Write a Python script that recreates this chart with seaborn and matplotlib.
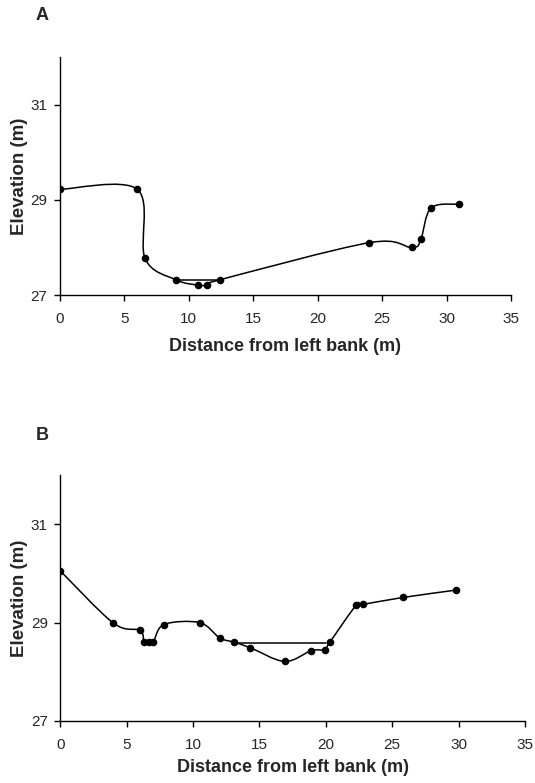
import numpy as np
import matplotlib.pyplot as plt
import seaborn as sns
from matplotlib.path import Path
from matplotlib.patches import PathPatch

# Cross-section A
dist_a = [0, 6.0, 6.6, 9.0, 10.7, 11.4, 12.4, 24.0, 27.3, 28.0, 28.8, 31.0]
elev_a = [29.22, 29.22, 27.77, 27.32, 27.21, 27.21, 27.32, 28.10, 28.00, 28.17, 28.83, 28.91]
water_a_x = [9.0, 12.4]
water_a_y = [27.32, 27.32]

# Cross-section B
dist_b = [0, 4.0, 6.0, 6.3, 6.65, 7.0, 7.8, 10.5, 12.0, 13.1, 14.3, 16.9, 18.9,
          19.9, 20.3, 22.3, 22.8, 25.8, 29.8]
elev_b = [30.05, 28.99, 28.84, 28.60, 28.60, 28.60, 28.96, 29.00, 28.69, 28.60,
          28.49, 28.21, 28.43, 28.45, 28.60, 29.36, 29.37, 29.51, 29.66]
water_b_x = [13.1, 20.0]
water_b_y = [28.59, 28.59]

yticks = [27, 29, 31]
xticks = [0, 5, 10, 15, 20, 25, 30, 35]

sns.set_style("ticks")
plt.rcParams['font.family'] = ['Liberation Sans', 'DejaVu Sans']


def smooth_path(xs, ys):
    # Excel-style smoothed line: cubic Bezier through each point
    p = np.column_stack([xs, ys]).astype(float)
    n = len(p)
    verts = [p[0]]
    codes = [Path.MOVETO]
    for i in range(n - 1):
        p0 = p[max(i - 1, 0)]
        p3 = p[min(i + 2, n - 1)]
        c1 = p[i] + (p[i + 1] - p0) / 6
        c2 = p[i + 1] - (p3 - p[i]) / 6
        verts += [c1, c2, p[i + 1]]
        codes += [Path.CURVE4] * 3
    return Path(verts, codes)


def draw_panel(ax, xs, ys, wx, wy, xpad):
    ax.add_patch(PathPatch(smooth_path(xs, ys), fill=False, edgecolor='black',
                           linewidth=1.1, zorder=2))
    ax.plot(wx, wy, color='black', linewidth=1.1, zorder=2)
    sns.scatterplot(x=xs, y=ys, ax=ax, color='black', s=30, edgecolor='black',
                    linewidth=0, zorder=3)
    ax.set_xlim(0, 35)
    ax.set_ylim(27, 32)
    ax.set_xticks(xticks)
    ax.set_yticks(yticks)
    ax.tick_params(labelsize=11, length=4, width=1, color='black')
    ax.tick_params(axis='x', pad=8)
    ax.tick_params(axis='y', pad=5)
    for s in ['left', 'bottom']:
        ax.spines[s].set_color('black')
        ax.spines[s].set_linewidth(1)
    sns.despine(ax=ax)
    ax.set_xlabel('Distance from left bank (m)', fontsize=13, fontweight='bold',
                  labelpad=xpad)
    ax.set_ylabel('Elevation (m)', fontsize=13.5, fontweight='bold', labelpad=2)


fig = plt.figure(figsize=(5.35, 7.83), dpi=100)
ax_a = fig.add_axes([0.1121, 0.6232, 0.843, 0.304])
ax_b = fig.add_axes([0.1127, 0.0792, 0.8686, 0.3142])

draw_panel(ax_a, dist_a, elev_a, water_a_x, water_a_y, 9)
draw_panel(ax_b, dist_b, elev_b, water_b_x, water_b_y, 5.5)

fig.text(42 / 535, 1 - 15.5 / 783, 'A', fontsize=13, fontweight='bold',
         ha='center', va='center')
fig.text(42 / 535, 1 - 435 / 783, 'B', fontsize=13, fontweight='bold',
         ha='center', va='center')

fig.savefig('out.png', dpi=100)
